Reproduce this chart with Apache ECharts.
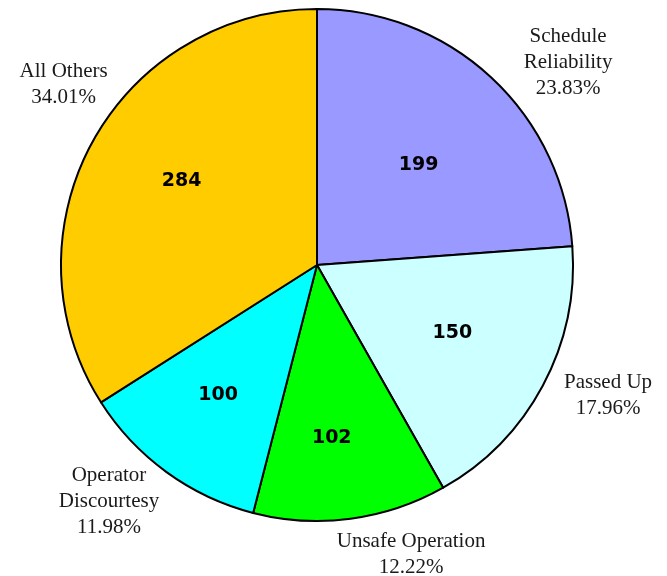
<!DOCTYPE html>
<html>
<head>
<meta charset="utf-8">
<script src="https://cdn.jsdelivr.net/npm/echarts@6/dist/echarts.min.js"></script>
<style>html,body{margin:0;padding:0;background:#fff;}#chart{width:667px;height:576px;}</style>
</head>
<body>
<div id="chart"></div>
<script>
const categories = ['Schedule Reliability', 'Passed Up', 'Unsafe Operation', 'Operator Discourtesy', 'All Others'];
const outerLabelText = ['Schedule\nReliability', 'Passed Up', 'Unsafe Operation', 'Operator\nDiscourtesy', 'All Others'];
const values = [199, 150, 102, 100, 284];
const colors = ['#9999FF', '#CCFFFF', '#00FF00', '#00FFFF', '#FFCC00'];

// label nudges (layout only)
const innerNudge = [[-6, 16], [-4, -6], [-6, 16], [-6, 2], [3, -8]];
const outerNudge = [[38, 27], [15, -17], [53, -21], [-24, -17], [21, -30]];

const total = values.reduce((a, b) => a + b, 0);
const center = [317, 265];

const mainData = categories.map((c, i) => ({ name: c, value: values[i], itemStyle: { color: colors[i] } }));
const labelData = categories.map((c, i) => ({ name: c, value: values[i] }));

const chart = echarts.init(document.getElementById('chart'));
chart.setOption({
  animation: false,
  backgroundColor: '#ffffff',
  series: [
    {
      type: 'pie', center: center, radius: [0, 256], startAngle: 90, clockwise: true,
      data: mainData, silent: true,
      itemStyle: { borderColor: '#000', borderWidth: 2 },
      label: { show: false }, labelLine: { show: false }
    },
    {
      type: 'pie', center: center, radius: [0, 310], startAngle: 90, clockwise: true,
      data: labelData, silent: true, z: 5,
      itemStyle: { color: 'rgba(0,0,0,0)', borderWidth: 0 },
      label: {
        show: true, position: 'inside', formatter: p => String(p.value),
        fontFamily: 'DejaVu Sans', fontWeight: 'bold', fontSize: 19, color: '#000'
      },
      labelLine: { show: false },
      labelLayout: p => ({ dx: innerNudge[p.dataIndex][0], dy: innerNudge[p.dataIndex][1] })
    },
    {
      type: 'pie', center: center, radius: [300, 320], startAngle: 90, clockwise: true,
      data: labelData, silent: true, z: 5,
      itemStyle: { color: 'rgba(0,0,0,0)', borderWidth: 0 },
      label: {
        show: true, position: 'inside',
        formatter: p => outerLabelText[p.dataIndex] + '\n' + (p.value / total * 100).toFixed(2) + '%',
        fontFamily: 'Liberation Serif', fontSize: 21, lineHeight: 26, color: '#1a1a1a', align: 'center'
      },
      labelLine: { show: false },
      labelLayout: p => ({ dx: outerNudge[p.dataIndex][0], dy: outerNudge[p.dataIndex][1] })
    }
  ]
});
</script>
</body>
</html>
